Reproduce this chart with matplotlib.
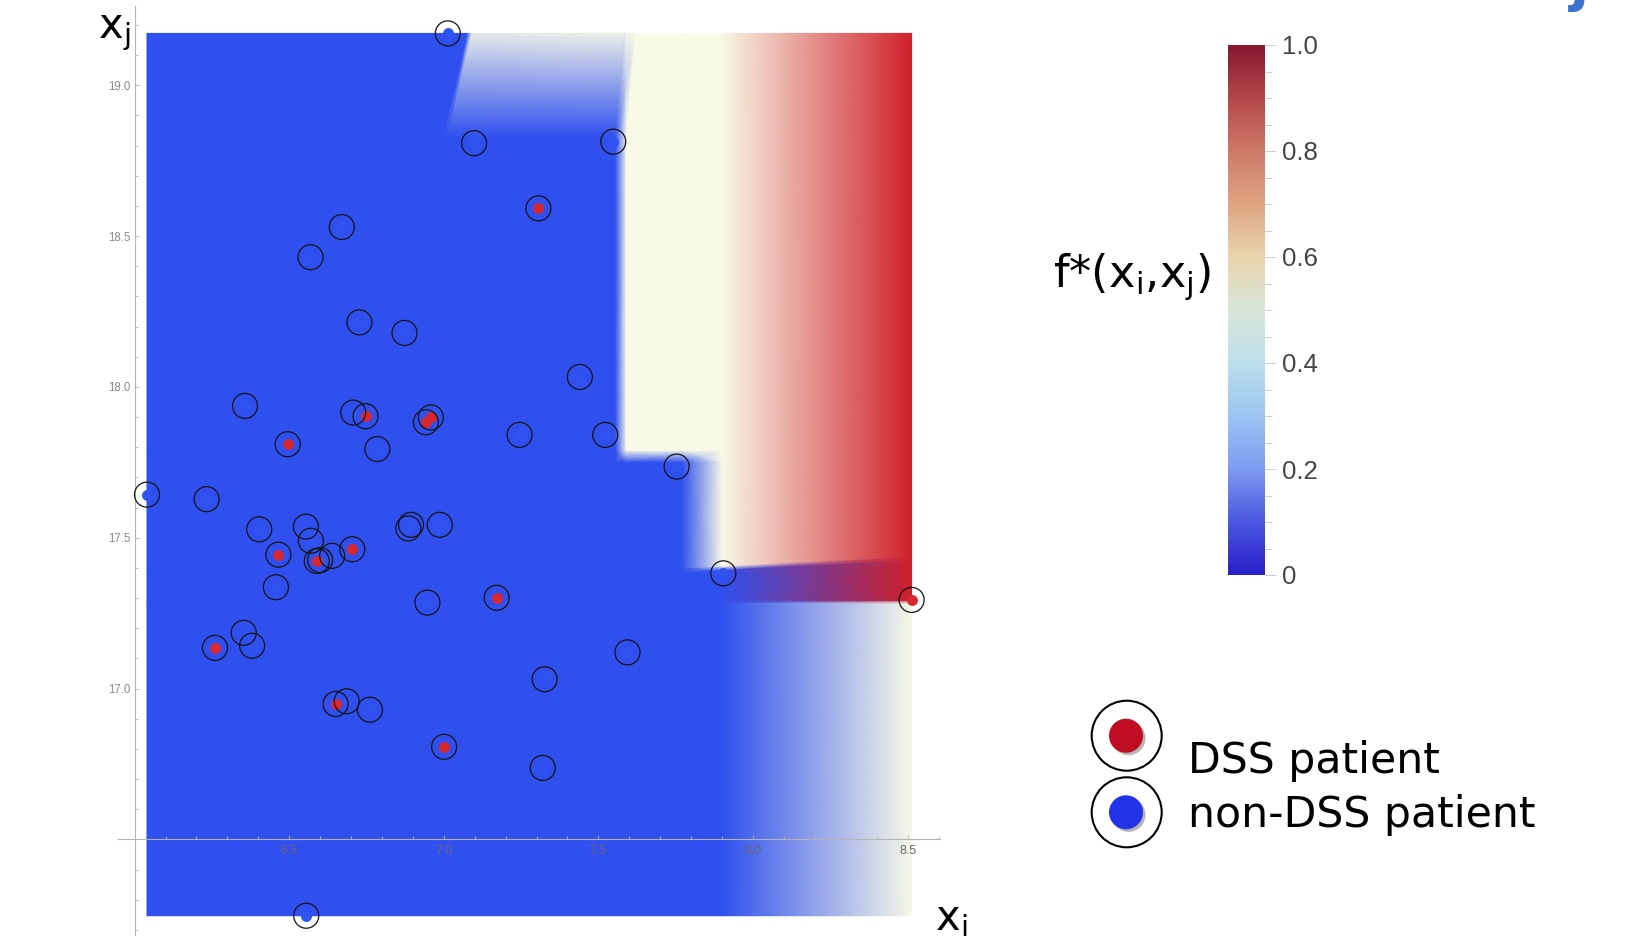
import numpy as np
import matplotlib
matplotlib.use('Agg')
import matplotlib.pyplot as plt
import matplotlib.cm as cm
from matplotlib.colors import LinearSegmentedColormap, Normalize
from matplotlib.patches import Circle
from matplotlib.ticker import MultipleLocator, FixedLocator

# patients (x_i, x_j)
DSS_XI = [7.306, 6.747, 6.958, 6.942, 6.495, 6.465, 6.589, 6.704, 7.171, 8.513, 6.260, 6.650, 7.001]
DSS_XJ = [18.592, 17.903, 17.899, 17.883, 17.810, 17.444, 17.423, 17.462, 17.301, 17.294, 17.135, 16.949, 16.807]

NON_XI = [7.013, 7.098, 7.548, 6.670, 6.569, 6.727, 6.873, 7.440, 6.357, 6.707,
          6.785, 7.245, 7.522, 7.753, 6.040, 6.233, 6.403, 6.554, 6.570, 6.600,
          6.639, 6.885, 6.894, 6.987, 6.457, 6.947, 7.904, 6.353, 6.380, 7.594,
          7.326, 6.686, 6.761, 7.320, 6.555]
NON_XJ = [19.172, 18.808, 18.813, 18.530, 18.430, 18.214, 18.179, 18.033, 17.937, 17.915,
          17.794, 17.841, 17.841, 17.736, 17.643, 17.628, 17.528, 17.537, 17.490, 17.426,
          17.440, 17.531, 17.543, 17.543, 17.336, 17.285, 17.382, 17.185, 17.142, 17.120,
          17.031, 16.958, 16.930, 16.737, 16.247]

# f*(x_i, x_j) at the corners of the field patches (0 blue, 0.5 cream, 1 red)
FIELD_XI = [6.040, 7.000, 7.015, 7.555, 7.590, 7.770, 7.900, 8.513]
FIELD_XJ = [16.247, 17.283, 17.293, 17.385, 17.400, 17.750, 17.790, 18.830, 19.172]
FIELD_F = [
    [0, 0, 0, 0, 0, 0, 0, 0.5],
    [0, 0, 0, 0, 0, 0, 0, 0.5],
    [0, 0, 0, 0, 0, 0, 0, 1.0],
    [0, 0, 0, 0, 0, 0, 0, 1.0],
    [0, 0, 0, 0, 0, 0, 0.5, 1.0],
    [0, 0, 0, 0, 0, 0, 0.5, 1.0],
    [0, 0, 0, 0, 0.5, 0.5, 0.5, 1.0],
    [0, 0, 0, 0, 0.5, 0.5, 0.5, 1.0],
    [0, 0, 0.45, 0.47, 0.5, 0.5, 0.5, 1.0],
]
TOP_EDGE_XI = [7.075, 7.090, 7.585, 7.620]   # slanted edges at the top row
BAND_TOP_RISE = 0.040                        # top of the purple band climbs to the right
RIGHT_ROWS = [0, 1, 2, 3, 4, 8]              # rows that matter in the last column strip

XI_TICKS = [6.5, 7.0, 7.5, 8.0, 8.5]
XJ_TICKS = [17.0, 17.5, 18.0, 18.5, 19.0]
CB_TICKS = [0, 0.2, 0.4, 0.6, 0.8, 1.0]
CB_LABELS = ['0', '0.2', '0.4', '0.6', '0.8', '1.0']

W, H = 1636, 936
plt.rcParams['font.family'] = ['Liberation Sans', 'DejaVu Sans']

fig = plt.figure(figsize=(W / 100.0, H / 100.0), dpi=100)

field_cmap = LinearSegmentedColormap.from_list(
    'field', ['#2f50ee', '#f8fae8', '#d0202a'])
cb_cmap = LinearSegmentedColormap.from_list(
    'temp', ['#2a1ec8', '#4a58e0', '#7e9cf0', '#9cc4f2', '#bcdfec', '#d8e6d8',
             '#e9d4ac', '#dfa583', '#ce7a68', '#b24848', '#871830'])

# main axes, placed so the data lands on the same pixels as the reference
ax = fig.add_axes([110.0 / W, 0, 840.0 / W, 1])
ax.set_xlim(5.9204, 8.6371)
ax.set_ylim(16.1798, 19.2827)
ax.patch.set_visible(False)

gx, gy = np.meshgrid(FIELD_XI, FIELD_XJ)
gx[-1, 1:5] = TOP_EDGE_XI
ramp = np.clip((gx[3:5] - FIELD_XI[5]) / (FIELD_XI[-1] - FIELD_XI[5]), 0, 1)
gy[3:5] = gy[3:5] + BAND_TOP_RISE * ramp
gf = np.array(FIELD_F)

# left block with every row, right strip with only its own rows
# (thin wide gouraud cells leave seams)
ax.pcolormesh(gx[:, :7], gy[:, :7], gf[:, :7], shading='gouraud', cmap=field_cmap,
              vmin=0, vmax=1, zorder=1, antialiased=False, linewidth=0)
ax.pcolormesh(gx[RIGHT_ROWS][:, 6:], gy[RIGHT_ROWS][:, 6:], gf[RIGHT_ROWS][:, 6:],
              shading='gouraud', cmap=field_cmap,
              vmin=0, vmax=1, zorder=1, antialiased=False, linewidth=0)

# axes through (6, 16.5), Mathematica style
for side in ['top', 'right']:
    ax.spines[side].set_visible(False)
ax.spines['left'].set_position(('data', 6.0))
ax.spines['bottom'].set_position(('data', 16.5))
ax.spines['left'].set_bounds(16.17, 19.262)
ax.spines['bottom'].set_bounds(5.946, 8.606)
for side in ['left', 'bottom']:
    ax.spines[side].set_color('#b4b4b4')
    ax.spines[side].set_linewidth(0.8)
    ax.spines[side].set_zorder(2.5)

ax.xaxis.set_major_locator(FixedLocator(XI_TICKS))
ax.yaxis.set_major_locator(FixedLocator(XJ_TICKS))
ax.xaxis.set_minor_locator(MultipleLocator(0.1))
ax.yaxis.set_minor_locator(MultipleLocator(0.1))
ax.set_xticklabels(['%.1f' % v for v in XI_TICKS])
ax.set_yticklabels(['%.1f' % v for v in XJ_TICKS])
ax.tick_params(which='major', direction='in', length=2.9, width=0.6, color='#b0b0b0')
ax.tick_params(which='minor', direction='in', length=1.9, width=0.6, color='#b8b8b8')
ax.tick_params(axis='x', labelsize=9, labelcolor='#666672', pad=4.3)
ax.tick_params(axis='y', labelsize=8.3, labelcolor='#8a8a8a', pad=2.6)
ax.set_axisbelow(False)

# patients: filled dot in a black ring
ax.scatter(NON_XI, NON_XJ, s=62, c='#2f52f0', linewidths=0, zorder=3, clip_on=False)
ax.scatter(DSS_XI, DSS_XJ, s=62, c='#d6282e', linewidths=0, zorder=3, clip_on=False)
ax.scatter(NON_XI + DSS_XI, NON_XJ + DSS_XJ, s=324, facecolors='none',
           edgecolors='#141414', linewidths=0.9, zorder=4, clip_on=False)

fig.text(98.0 / W, 1 - 38.0 / H, r'x$_\mathregular{j}$', fontsize=30,
         family='DejaVu Sans', va='baseline', ha='left')
fig.text(935.0 / W, 1 - 930.0 / H, r'x$_\mathregular{i}$', fontsize=30,
         family='DejaVu Sans', va='baseline', ha='left')

# colour bar
cax = fig.add_axes([1228.0 / W, 1 - 575.0 / H, 37.0 / W, 530.0 / H])
cb = fig.colorbar(cm.ScalarMappable(norm=Normalize(0, 1), cmap=cb_cmap),
                  cax=cax, ticks=CB_TICKS)
cb.outline.set_visible(False)
cb.ax.set_yticklabels(CB_LABELS)
cb.ax.yaxis.set_minor_locator(MultipleLocator(0.05))
cb.ax.tick_params(which='major', length=7.9, width=0.7, color='#cccccc',
                  labelsize=18.6, labelcolor='#444444', pad=4.3)
cb.ax.tick_params(which='minor', length=4.7, width=0.7, color='#cccccc')
fig.text(1211.0 / W, 1 - 286.5 / H, r'f*(x$_\mathregular{i}$,x$_\mathregular{j}$)',
         fontsize=32, family='DejaVu Sans', ha='right', va='baseline')

# legend, drawn in pixel coordinates
lax = fig.add_axes([0, 0, 1, 1])
lax.set_xlim(0, W)
lax.set_ylim(H, 0)
lax.axis('off')
for cy, dot in [(735.7, '#c00c22'), (812.3, '#2233e8')]:
    lax.add_patch(Circle((1126.7, cy), 35, facecolor='white', edgecolor='black', lw=1.5))
    lax.add_patch(Circle((1128.5, cy + 2.5), 17, facecolor='#777777', alpha=0.55, lw=0))
    lax.add_patch(Circle((1126.0, cy), 17, facecolor=dot, lw=0))
lax.text(1188, 773, 'DSS patient', fontsize=30.7, family='DejaVu Sans', va='baseline')
lax.text(1188, 827, 'non-DSS patient', fontsize=30.7, family='DejaVu Sans', va='baseline')

# bit of a heading cut off at the top edge
fig.text(1570.0 / W, 1.0, 'j', fontsize=40, fontweight='bold', color='#3a72ce',
         family='DejaVu Sans', va='baseline', ha='left')

fig.savefig('out.png', dpi=100)
